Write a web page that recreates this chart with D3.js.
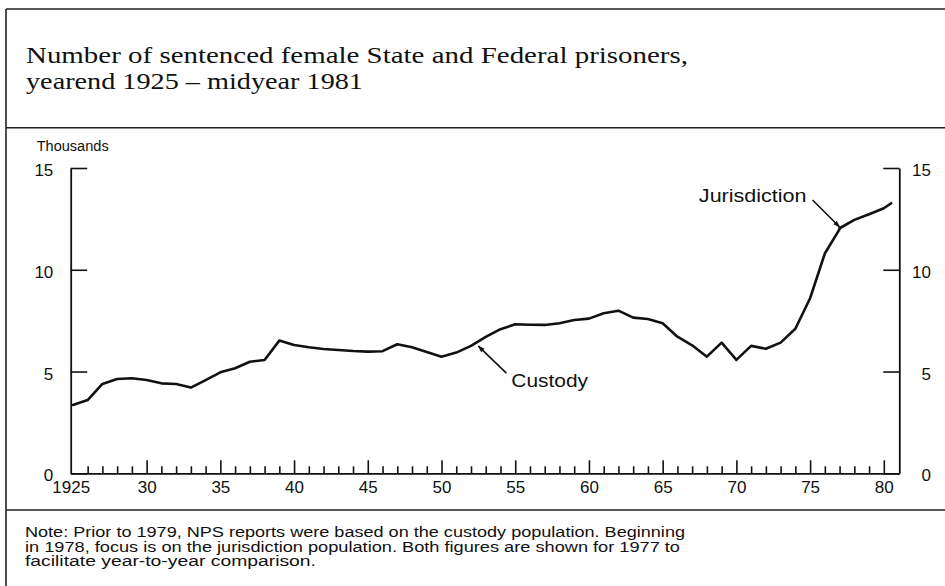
<!DOCTYPE html>
<html>
<head>
<meta charset="utf-8">
<script src="https://cdn.jsdelivr.net/npm/d3@7"></script>
<style>
  html, body { margin: 0; padding: 0; background: #fff; }
  svg { display: block; }
  text { fill: #111; }
</style>
</head>
<body>
<svg id="chart" width="945" height="586"></svg>
<script>
// ---------------- data ----------------
const titleLines = [
  "Number of sentenced female State and Federal prisoners,",
  "yearend 1925 \u2013 midyear 1981"
];
const unitLabel = "Thousands";
const noteLines = [
  "Note: Prior to 1979, NPS reports were based on the custody population. Beginning",
  "in 1978, focus is on the jurisdiction population. Both figures are shown for 1977 to",
  "facilitate year-to-year comparison."
];

const custodyYears = d3.range(1925, 1978);
const custodyValues = [
  3.36, 3.60, 4.39, 4.63, 4.67, 4.58, 4.42, 4.39, 4.21, 4.58,
  4.96, 5.16, 5.48, 5.57, 6.52, 6.30, 6.19, 6.11, 6.06, 6.01,
  5.98, 6.00, 6.34, 6.19, 5.96, 5.73, 5.93, 6.26, 6.70, 7.08,
  7.32, 7.30, 7.29, 7.37, 7.53, 7.60, 7.86, 7.99, 7.65, 7.58,
  7.37, 6.71, 6.29, 5.73, 6.42, 5.57, 6.26, 6.12, 6.42, 7.10,
  8.60, 10.80, 12.00
];
const jurisdictionYears = [1977, 1978, 1979, 1980, 1980.5];
const jurisdictionValues = [12.04, 12.45, 12.73, 13.02, 13.27];

const xDomain = [1924.85, 1981.05];
const yDomain = [0, 15];
const yTickValues = [0, 5, 10, 15];
const xLabelYears = [1925, 1930, 1935, 1940, 1945, 1950, 1955, 1960, 1965, 1970, 1975, 1980];
const xLabelTexts = ["1925", "30", "35", "40", "45", "50", "55", "60", "65", "70", "75", "80"];
const xMinorYears = d3.range(1926, 1981).filter(y => y % 5 !== 0);
const xMajorYears = d3.range(1930, 1981, 5);

const annotationLabels = ["Custody", "Jurisdiction"];
const annotationYears = [1952.5, 1977];
const annotationValues = [6.25, 12.1];

// ---------------- layout ----------------
const svg = d3.select("#chart");
const W = 945, H = 586;
const plot = { left: 70.7, right: 899.3, top: 168, bottom: 473.3 };
const ink = "#111";

const x = d3.scaleLinear().domain(xDomain).range([plot.left, plot.right]);
const y = d3.scaleLinear().domain(yDomain).range([plot.bottom, plot.top]);

// frame
const frame = svg.append("g").attr("stroke", "#222").attr("stroke-width", 1.6).attr("fill", "none");
frame.append("line").attr("x1", 6).attr("x2", W).attr("y1", 9).attr("y2", 9);
frame.append("line").attr("x1", 6).attr("x2", 6).attr("y1", 9).attr("y2", H);
frame.append("line").attr("x1", 6).attr("x2", W).attr("y1", 127.7).attr("y2", 127.7);
frame.append("line").attr("x1", 6).attr("x2", W).attr("y1", 510).attr("y2", 510);

// title
const titleLens = [662, 337];
const titleBase = [63, 88.5];
svg.append("g").selectAll("text").data(titleLines).join("text")
  .attr("x", 26).attr("y", (d, i) => titleBase[i])
  .attr("font-family", "'Liberation Serif', 'Times New Roman', serif")
  .attr("font-size", 23)
  .attr("textLength", (d, i) => titleLens[i])
  .attr("lengthAdjust", "spacingAndGlyphs")
  .text(d => d);

// unit label
svg.append("text").attr("x", 36.7).attr("y", 150.5)
  .attr("font-family", "'Liberation Sans', Arial, sans-serif")
  .attr("font-size", 14)
  .attr("textLength", 72).attr("lengthAdjust", "spacingAndGlyphs")
  .text(unitLabel);

// axes
const axisFont = "'Liberation Sans', Arial, sans-serif";
function styleAxis(g) {
  g.select(".domain").attr("stroke", ink).attr("stroke-width", 1.8);
  g.selectAll(".tick line").attr("stroke", ink).attr("stroke-width", 1.6);
  g.selectAll("text").attr("font-family", axisFont).attr("font-size", 17).attr("fill", ink);
}

// bottom minor ticks
const gxMinor = svg.append("g").attr("transform", `translate(0,${plot.bottom})`)
  .call(d3.axisBottom(x).tickValues(xMinorYears).tickSize(-7).tickSizeOuter(0).tickFormat(""));
styleAxis(gxMinor);
// bottom major ticks
const gxMajor = svg.append("g").attr("transform", `translate(0,${plot.bottom})`)
  .call(d3.axisBottom(x).tickValues(xMajorYears).tickSize(-13).tickSizeOuter(0).tickFormat(""));
styleAxis(gxMajor);
gxMajor.select(".domain").remove();
// bottom labels
const gxLab = svg.append("g").attr("transform", `translate(0,${plot.bottom})`)
  .call(d3.axisBottom(x).tickValues(xLabelYears).tickSize(0).tickPadding(8)
    .tickFormat((d, i) => xLabelTexts[i]));
styleAxis(gxLab);
gxLab.select(".domain").remove();
gxLab.select(".tick text").attr("x", plot.left - x(1925));

// left axis
const gyL = svg.append("g").attr("transform", `translate(${plot.left},0)`)
  .call(d3.axisLeft(y).tickValues(yTickValues).tickSize(-16.5).tickSizeOuter(0).tickPadding(17.4));
styleAxis(gyL);
gyL.selectAll(".tick text").attr("dy", "0.45em");

// right axis
const gyR = svg.append("g").attr("transform", `translate(${plot.right},0)`)
  .call(d3.axisRight(y).tickValues(yTickValues).tickSize(-16).tickSizeOuter(0));
styleAxis(gyR);
gyR.selectAll(".tick text").attr("x", 31.7).attr("text-anchor", "end").attr("dy", "0.45em");

// lines
const line = d3.line().x(d => x(d[0])).y(d => y(d[1]));
const custody = custodyYears.map((yr, i) => [yr, custodyValues[i]]);
const jurisdiction = jurisdictionYears.map((yr, i) => [yr, jurisdictionValues[i]]);
svg.append("path").datum(custody).attr("d", line)
  .attr("fill", "none").attr("stroke", ink).attr("stroke-width", 2.6)
  .attr("stroke-linejoin", "round").attr("stroke-linecap", "round");
svg.append("path").datum(jurisdiction).attr("d", line)
  .attr("fill", "none").attr("stroke", ink).attr("stroke-width", 2.6)
  .attr("stroke-linejoin", "round").attr("stroke-linecap", "round");

// annotations
svg.append("defs").append("marker")
  .attr("id", "arr").attr("viewBox", "0 0 10 10").attr("refX", 9).attr("refY", 5)
  .attr("markerWidth", 7).attr("markerHeight", 7).attr("orient", "auto")
  .attr("markerUnits", "userSpaceOnUse")
  .append("path").attr("d", "M0,1.5 L10,5 L0,8.5 Z").attr("fill", ink);

const annTail = [[28, 27], [-27, -27]];
const annText = [[33, 40.5], [-33, -25]];
const annAnchor = ["start", "end"];
const annLen = [76.7, 107.7];
const ann = svg.append("g");
annotationLabels.forEach((lab, i) => {
  const tx = x(annotationYears[i]), ty = y(annotationValues[i]);
  ann.append("line")
    .attr("x1", tx + annTail[i][0]).attr("y1", ty + annTail[i][1])
    .attr("x2", tx).attr("y2", ty)
    .attr("stroke", ink).attr("stroke-width", 1.6).attr("marker-end", "url(#arr)");
  ann.append("text")
    .attr("x", tx + annText[i][0]).attr("y", ty + annText[i][1])
    .attr("text-anchor", annAnchor[i])
    .attr("font-family", axisFont).attr("font-size", 18.5)
    .attr("textLength", annLen[i]).attr("lengthAdjust", "spacingAndGlyphs")
    .text(lab);
});

// note
const noteLens = [660, 655, 291];
const noteBase = [537, 551.5, 566];
svg.append("g").selectAll("text").data(noteLines).join("text")
  .attr("x", 25).attr("y", (d, i) => noteBase[i])
  .attr("font-family", axisFont).attr("font-size", 14)
  .attr("textLength", (d, i) => noteLens[i]).attr("lengthAdjust", "spacingAndGlyphs")
  .text(d => d);
</script>
</body>
</html>
